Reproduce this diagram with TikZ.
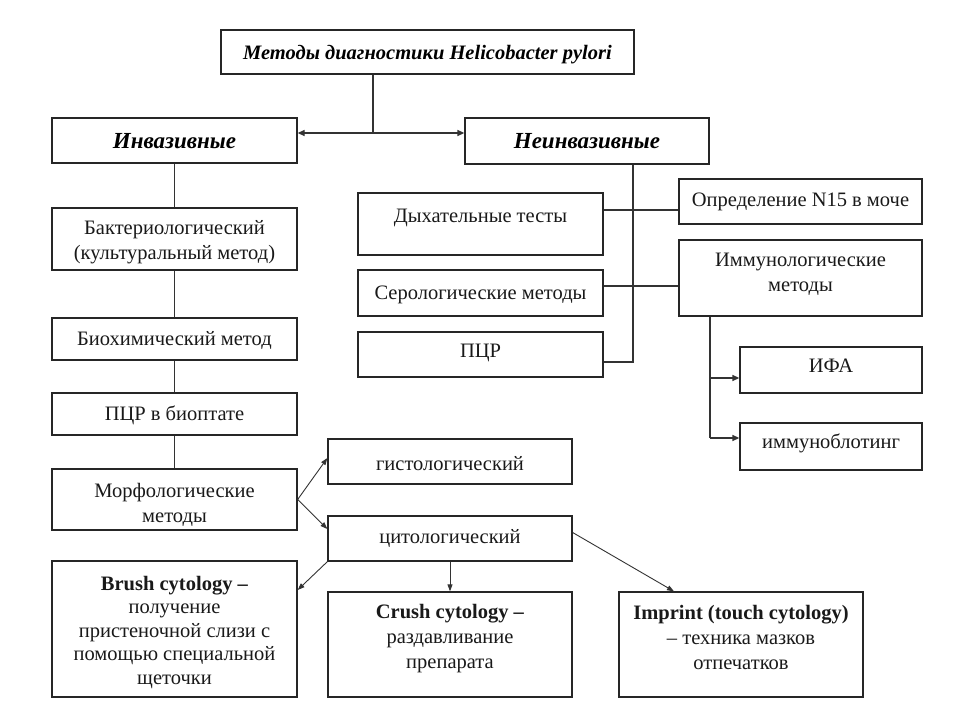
\documentclass[tikz,border=0pt]{standalone}
\usepackage{fontspec}
\setmainfont{Liberation Serif}
\usetikzlibrary{arrows.meta,calc}
\begin{document}
\begin{tikzpicture}[x=1pt,y=-1pt,
  box/.style={draw=black!85, line width=1.3pt, inner sep=0pt},
  txt/.style={align=center, font=\fontsize{20.5}{25}\selectfont, inner sep=0pt, text=black!90, yshift=-2.5pt},
  head/.style={align=center, font=\fontsize{23}{26}\selectfont\bfseries\itshape, inner sep=0pt, yshift=-2.5pt},
  ln/.style={draw=black!80, line width=1.3pt},
  arr/.style={ln, -{Triangle[length=7pt,width=6pt]}},
  darr/.style={ln, {Triangle[length=7pt,width=6pt]}-{Triangle[length=7pt,width=6pt]}},
  thinarr/.style={draw=black!80, line width=0.9pt, -{Triangle[length=7pt,width=5pt]}}]
\fill[white] (0,0) rectangle (960,720);
\path[use as bounding box] (0,0) rectangle (960,720);

% boxes
\node[box, minimum width=413pt, minimum height=44pt] (title) at (427.5,52) {};
\node[box, minimum width=245pt, minimum height=45pt] (inv) at (174.5,140.5) {};
\node[box, minimum width=244pt, minimum height=46pt] (ninv) at (587,141) {};
\node[box, minimum width=245pt, minimum height=62pt] (bact) at (174.5,239) {};
\node[box, minimum width=245pt, minimum height=42pt] (bio) at (174.5,339) {};
\node[box, minimum width=245pt, minimum height=42pt] (pcrb) at (174.5,414) {};
\node[box, minimum width=245pt, minimum height=61pt] (morph) at (174.5,499.5) {};
\node[box, minimum width=244pt, minimum height=45pt] (hist) at (450,461.5) {};
\node[box, minimum width=244pt, minimum height=45pt] (cyto) at (450,538.5) {};
\node[box, minimum width=245pt, minimum height=136pt] (brush) at (174.5,629) {};
\node[box, minimum width=244pt, minimum height=105pt] (crush) at (450,644.5) {};
\node[box, minimum width=244pt, minimum height=105pt] (imprint) at (741,644.5) {};
\node[box, minimum width=245pt, minimum height=62pt] (breath) at (480.5,224) {};
\node[box, minimum width=245pt, minimum height=46pt] (sero) at (480.5,293) {};
\node[box, minimum width=245pt, minimum height=45pt] (pcr) at (480.5,354.5) {};
\node[box, minimum width=243pt, minimum height=45pt] (n15) at (800.5,201.5) {};
\node[box, minimum width=243pt, minimum height=76pt] (immuno) at (800.5,278) {};
\node[box, minimum width=182pt, minimum height=46pt] (ifa) at (831,370) {};
\node[box, minimum width=182pt, minimum height=47pt] (blot) at (831,446.5) {};

% texts
\node[head, font=\fontsize{20.5}{24}\selectfont\bfseries\itshape] (titleT) at (427.5,52) {Методы диагностики Helicobacter pylori};
\node[head] (invT) at (174.5,139) {Инвазивные};
\node[head] (ninvT) at (587,139) {Неинвазивные};
\node[txt] (bactT) at (174.5,240) {Бактериологический\\(культуральный метод)};
\node[txt] (bioT) at (174.5,338) {Биохимический метод};
\node[txt] (pcrbT) at (174.5,413) {ПЦР в биоптате};
\node[txt] (morphT) at (174.5,502) {Морфологические\\методы};
\node[txt] (histT) at (450,461) {гистологический};
\node[txt] (cytoT) at (450,536) {цитологический};
\node[txt, font=\fontsize{20.5}{23.5}\selectfont] (brushT) at (174.5,630) {\textbf{Brush cytology –}\\получение\\пристеночной слизи с\\помощью специальной\\щеточки};
\node[txt] (crushT) at (450,636) {\textbf{Crush cytology –}\\раздавливание\\препарата};
\node[txt] (imprintT) at (741,635) {\textbf{Imprint (touch cytology)}\\– техника мазков\\отпечатков};
\node[txt] (breathT) at (480.5,215) {Дыхательные тесты};
\node[txt] (seroT) at (480.5,292) {Серологические методы};
\node[txt] (pcrT) at (480.5,350) {ПЦР};
\node[txt] (n15T) at (800.5,199) {Определение N15 в моче};
\node[txt] (immunoT) at (800.5,272) {Иммунологические\\методы};
\node[txt] (ifaT) at (831,363) {ИФА};
\node[txt] (blotT) at (831,441) {иммуноблотинг};

% top junction
\coordinate (j) at (373,133);
\draw[ln] (title.south -| j) -- (j);
\draw[darr] (j -| inv.east) -- (j -| ninv.west);

% invasive chain
\draw[ln] (inv.south) -- (bact.north);
\draw[ln] (bact.south) -- (bio.north);
\draw[ln] (bio.south) -- (pcrb.north);
\draw[ln] (pcrb.south) -- (morph.north);

% morphological
\draw[thinarr] (morph.east) -- ([yshift=3.5pt]hist.west);
\draw[thinarr] (morph.east) -- ([yshift=9.5pt]cyto.west);
\draw[thinarr] (cyto.south west) -- ([yshift=39pt]brush.east);
\draw[thinarr] (cyto.south) -- (crush.north);
\draw[thinarr] ([yshift=6pt]cyto.east) -- ([xshift=-67pt]imprint.north);

% noninvasive
\coordinate (v) at (633,362);
\draw[ln] (ninv.south -| v) -- (v) -- (v -| pcr.east);
\coordinate (hb) at (603,210);
\draw[ln] (hb -| breath.east) -- (hb -| n15.west);
\coordinate (hs) at (603,286);
\draw[ln] (hs -| sero.east) -- (hs -| immuno.west);

% immunological
\coordinate (iv) at (710,438);
\draw[ln] (immuno.south -| iv) -- (iv);
\draw[arr] (iv |- 0,378) -- (ifa.west |- 0,378);
\draw[arr] (iv) -- (iv -| blot.west);
\end{tikzpicture}
\end{document}
